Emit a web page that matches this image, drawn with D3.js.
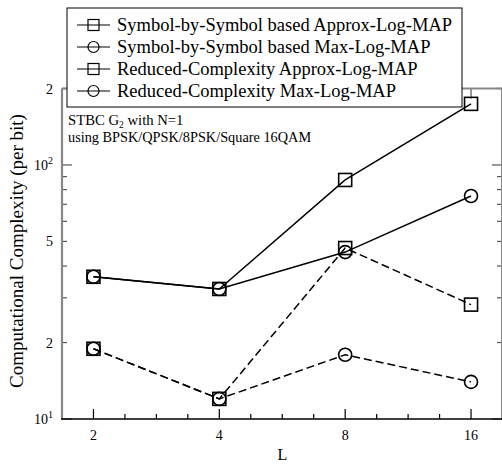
<!DOCTYPE html>
<html><head><meta charset="utf-8">
<script src="https://cdn.jsdelivr.net/npm/d3@7"></script>
<style>body{margin:0;background:#fff}svg{display:block}text{font-family:"Liberation Serif","Times New Roman",serif;fill:#000}</style>
</head><body>
<script>
const L = [2, 4, 8, 16];
const seriesNames = [
  "Symbol-by-Symbol based Approx-Log-MAP",
  "Symbol-by-Symbol based Max-Log-MAP",
  "Reduced-Complexity Approx-Log-MAP",
  "Reduced-Complexity Max-Log-MAP"
];
const sbsApprox = [36.3, 32.5, 87.3, 174];
const sbsMax = [36.3, 32.5, 45.4, 75.5];
const rcApprox = [18.9, 12.0, 47.1, 28.2];
const rcMax = [18.9, 12.0, 17.9, 14.0];
const markers = ["square", "circle", "square", "circle"];
const dashed = [false, false, true, true];
const yTickLabels = [[10, "10", "1"], [20, "2", ""], [50, "5", ""], [100, "10", "2"], [200, "2", ""]];
const xTickLabels = ["2", "4", "8", "16"];

const W = 502, H = 464;
const svg = d3.select("body").append("svg").attr("width", W).attr("height", H);
const x = d3.scaleLog().base(2).domain([Math.pow(2, 0.75), Math.pow(2, 4.25)]).range([62, 502.5]);
const y = d3.scaleLog().domain([10, 200]).range([419, 88.5]);
const x0 = 62, x1 = 502, y0 = 419, y1 = 88.5;

// y ticks
const yMinor = [];
for (let d = 10; d <= 100; d *= 10) for (let m = 1; m < 10; m++) { const v = m * d; if (v >= 10 && v <= 200) yMinor.push(v); }
yMinor.push(200);
const g = svg.append("g");
yMinor.forEach(v => {
  const major = (v === 10 || v === 100);
  const len = major ? 10 : 5;
  g.append("line").attr("x1", x0).attr("x2", x0 + len).attr("y1", y(v)).attr("y2", y(v)).attr("stroke", "#555").attr("stroke-width", 1.2);
  g.append("line").attr("x1", x1 - len).attr("x2", x1).attr("y1", y(v)).attr("y2", y(v)).attr("stroke", "#555").attr("stroke-width", 1.2);
});
// x ticks
for (let k = 3; k <= 17; k++) {
  const v = Math.pow(2, k / 4);
  const major = k % 4 === 0;
  const len = major ? 10 : 5;
  g.append("line").attr("x1", x(v)).attr("x2", x(v)).attr("y1", y0).attr("y2", y0 - len).attr("stroke", "#000").attr("stroke-width", 1.2);
  g.append("line").attr("x1", x(v)).attr("x2", x(v)).attr("y1", y1).attr("y2", y1 + len).attr("stroke", "#555").attr("stroke-width", 1.2);
}
// frame
svg.append("line").attr("x1", x0).attr("x2", x0).attr("y1", y1).attr("y2", y0).attr("stroke", "#888").attr("stroke-width", 2.2);
svg.append("line").attr("x1", x0).attr("x2", x1).attr("y1", y1).attr("y2", y1).attr("stroke", "#888").attr("stroke-width", 2);
svg.append("line").attr("x1", x1).attr("x2", x1).attr("y1", y1).attr("y2", y0).attr("stroke", "#888").attr("stroke-width", 2);
svg.append("line").attr("x1", x0 - 1).attr("x2", x1).attr("y1", y0).attr("y2", y0).attr("stroke", "#000").attr("stroke-width", 1.5);

// tick labels
yTickLabels.forEach(([v, base, sup]) => {
  const t = svg.append("text").attr("x", 53).attr("y", y(v) + 5).attr("text-anchor", "end").attr("font-size", 14);
  t.append("tspan").text(base);
  if (sup) t.append("tspan").attr("dy", -6).attr("font-size", 10).text(sup);
});
xTickLabels.forEach((s, i) => {
  svg.append("text").attr("x", x(L[i])).attr("y", 440).attr("text-anchor", "middle").attr("font-size", 14).text(s);
});
svg.append("text").attr("x", x(5.66)).attr("y", 460).attr("text-anchor", "middle").attr("font-size", 16).text("L");
svg.append("text").attr("transform", `translate(23,251) rotate(-90)`).attr("text-anchor", "middle").attr("font-size", 19).text("Computational Complexity (per bit)");

// annotation
const a1 = svg.append("text").attr("x", 68).attr("y", 125).attr("font-size", 14.7);
a1.append("tspan").text("STBC G");
a1.append("tspan").attr("dy", 3).attr("font-size", 9.5).text("2");
a1.append("tspan").attr("dy", -3).text(" with N=1");
svg.append("text").attr("x", 68).attr("y", 142).attr("font-size", 14.3).text("using BPSK/QPSK/8PSK/Square 16QAM");

// series
const allSeries = [sbsApprox, sbsMax, rcApprox, rcMax];
const line = d3.line().x((d, i) => x(L[i])).y(d => y(d));
function drawMarker(sel, type, cx, cy, s, sw) {
  if (type === "square") sel.append("rect").attr("x", cx - s / 2).attr("y", cy - s / 2).attr("width", s).attr("height", s).attr("fill", "none").attr("stroke", "#000").attr("stroke-width", sw);
  else sel.append("circle").attr("cx", cx).attr("cy", cy).attr("r", s / 2).attr("fill", "none").attr("stroke", "#000").attr("stroke-width", sw);
}
allSeries.forEach((vals, si) => {
  svg.append("path").attr("d", line(vals)).attr("fill", "none").attr("stroke", "#000").attr("stroke-width", 1.5)
    .attr("stroke-dasharray", dashed[si] ? "8,4" : null);
  vals.forEach((v, i) => drawMarker(svg, markers[si], x(L[i]), y(v), 13, 1.6));
});

// legend
const lg = svg.append("g");
lg.append("rect").attr("x", 67).attr("y", 8).attr("width", 395).attr("height", 99).attr("fill", "#fff").attr("stroke", "#000").attr("stroke-width", 1);
seriesNames.forEach((n, i) => {
  const cy = 25 + i * 22;
  lg.append("line").attr("x1", 77).attr("x2", 110).attr("y1", cy).attr("y2", cy).attr("stroke", "#000").attr("stroke-width", 1.2);
  drawMarker(lg, markers[i], 93.5, cy, 11, 1.2);
  lg.append("text").attr("x", 117).attr("y", cy + 6).attr("font-size", 18.5).text(n);
});
</script>
</body></html>
